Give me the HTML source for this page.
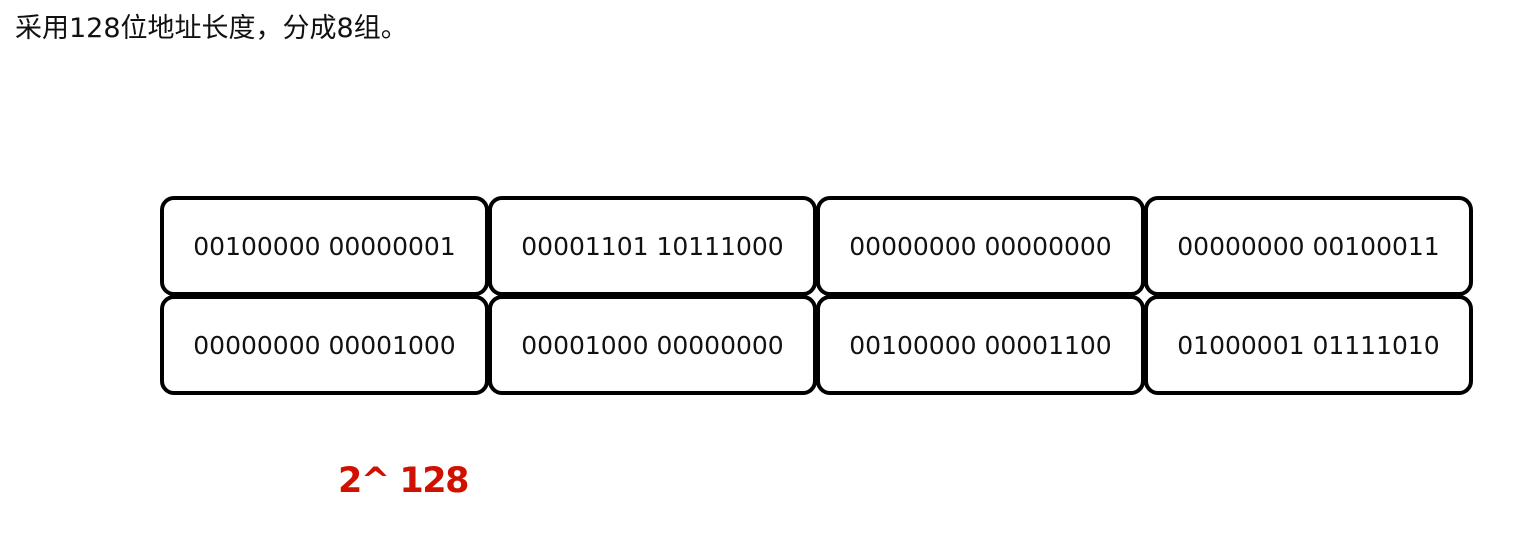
<!DOCTYPE html>
<html><head><meta charset="utf-8"><style>
body{margin:0;width:1524px;height:535px;background:#fff;position:relative;overflow:hidden;font-family:"Liberation Sans","Noto Sans CJK SC",sans-serif;}
.t{position:absolute;left:15px;top:6px;font-size:27px;color:#111;font-family:"DejaVu Sans","Noto Sans CJK SC",sans-serif;}
.b{position:absolute;box-sizing:border-box;border:4px solid #000;border-radius:14px;display:flex;align-items:center;justify-content:center;font-size:25px;color:#111;font-family:"DejaVu Sans",sans-serif;}
.r{position:absolute;left:338px;top:461px;font-size:35px;font-weight:bold;color:#d01000;font-family:"DejaVu Sans",sans-serif;letter-spacing:-1.5px;}
</style></head><body>
<div class="t">采用128位地址长度，分成8组。</div>
<div id="g"></div>
<div class="r">2^ 128</div>
<script>
const groups=["00100000 00000001","00001101 10111000","00000000 00000000","00000000 00100011","00000000 00001000","00001000 00000000","00100000 00001100","01000001 01111010"];
const xs=[160,488,816,1144],ys=[196,295];
const g=document.getElementById('g');
groups.forEach((s,i)=>{const d=document.createElement('div');d.className='b';


d.style.left=xs[i%4]+'px';d.style.top=ys[Math.floor(i/4)]+'px';d.style.width='329px';d.style.height='100px';d.textContent=s;g.appendChild(d);});
</script>
</body></html>
